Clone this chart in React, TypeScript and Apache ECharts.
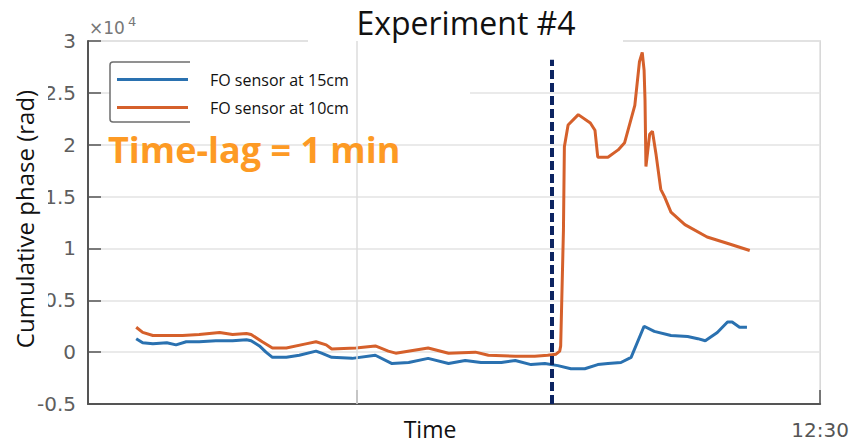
import React, { useEffect, useRef } from "react";
import * as echarts from "echarts";

// x: minutes relative to 12:30, y: cumulative phase in units of 1e4 rad
const seriesNames = ["FO sensor at 15cm", "FO sensor at 10cm"];

const times15 = [-7.38, -7.31, -7.2, -7.05, -6.95, -6.84, -6.7, -6.52, -6.34, -6.19, -6.14, -6.05, -5.98, -5.91, -5.76, -5.62, -5.44, -5.38, -5.27, -5.05, -4.8, -4.62, -4.44, -4.23, -4.01, -3.83, -3.66, -3.44, -3.29, -3.12, -2.97, -2.83, -2.69, -2.54, -2.4, -2.29, -2.15, -2.04, -1.9, -1.79, -1.61, -1.43, -1.32, -1.24, -1.11, -1.0, -0.95, -0.87, -0.79];
const values15 = [0.13, 0.09, 0.08, 0.09, 0.07, 0.1, 0.1, 0.11, 0.11, 0.12, 0.11, 0.06, 0.0, -0.05, -0.05, -0.03, 0.01, -0.01, -0.05, -0.06, -0.03, -0.11, -0.1, -0.06, -0.11, -0.08, -0.1, -0.1, -0.08, -0.12, -0.11, -0.13, -0.16, -0.16, -0.12, -0.11, -0.1, -0.05, 0.25, 0.2, 0.16, 0.15, 0.13, 0.11, 0.19, 0.29, 0.29, 0.24, 0.24];

const times10 = [-7.38, -7.31, -7.2, -6.88, -6.7, -6.48, -6.34, -6.19, -6.14, -6.02, -5.91, -5.76, -5.55, -5.44, -5.33, -5.27, -5.01, -4.8, -4.66, -4.58, -4.23, -4.01, -3.72, -3.58, -3.29, -3.08, -2.94, -2.85, -2.81, -2.8, -2.77, -2.76, -2.72, -2.61, -2.48, -2.43, -2.4, -2.29, -2.18, -2.11, -2.0, -1.95, -1.92, -1.9, -1.89, -1.88, -1.84, -1.81, -1.77, -1.72, -1.68, -1.61, -1.46, -1.22, -0.97, -0.76];
const values10 = [0.24, 0.19, 0.16, 0.16, 0.17, 0.19, 0.17, 0.18, 0.17, 0.1, 0.04, 0.04, 0.08, 0.1, 0.07, 0.03, 0.04, 0.06, 0.01, -0.01, 0.04, -0.01, 0.0, -0.03, -0.04, -0.04, -0.03, -0.02, 0.01, 0.06, 1.18, 1.98, 2.19, 2.29, 2.21, 2.14, 1.88, 1.88, 1.95, 2.02, 2.38, 2.8, 2.89, 2.72, 2.43, 1.79, 2.1, 2.13, 1.9, 1.57, 1.5, 1.35, 1.23, 1.11, 1.04, 0.98];

const yTicks = [-0.5, 0, 0.5, 1, 1.5, 2, 2.5, 3];
const xTickValues = [-5, 0];
const xLabelValues = [0];
const xLabelText = "12:30";
const lagTime = -2.9;
const lagTop = 2.82;

const sans = "'Open Sans', sans-serif";
const tickFont = "'DejaVu Sans', sans-serif";

export default function App() {
  const ref = useRef<HTMLDivElement>(null);
  useEffect(() => {
    if (!ref.current) return;
    const chart = echarts.init(ref.current, undefined, { renderer: "svg" });
    const d15 = times15.map((t, i) => [t, values15[i]]);
    const d10 = times10.map((t, i) => [t, values10[i]]);
    chart.setOption({
      animation: false,
      backgroundColor: "#ffffff",
      grid: {
        left: 88,
        right: 29,
        top: 41,
        bottom: 43,
        show: true,
        borderColor: "#d6d6d6",
        borderWidth: 1.5,
        backgroundColor: "transparent",
      },
      legend: {
        data: seriesNames,
        orient: "vertical",
        left: 117,
        top: 70,
        padding: 0,
        itemWidth: 71,
        itemHeight: 3,
        itemGap: 9,
        icon: "rect",
        selectedMode: false,
        z: 6,
        textStyle: {
          fontFamily: sans,
          fontSize: 16,
          color: "#111111",
          lineHeight: 19,
          padding: [0, 0, 0, 17],
        },
      },
      xAxis: {
        type: "value",
        min: -7.9,
        max: 0,
        axisLine: { show: true, onZero: false, lineStyle: { color: "#555555", width: 2 } },
        axisTick: {
          show: true,
          inside: true,
          length: 14,
          customValues: xTickValues,
          lineStyle: { color: "#555555", width: 1.5 },
        },
        axisLabel: {
          customValues: xLabelValues,
          formatter: () => xLabelText,
          color: "#555555",
          fontFamily: tickFont,
          fontSize: 20,
          margin: 16,
        },
        splitLine: { show: false },
      },
      yAxis: {
        type: "value",
        min: -0.5,
        max: 3,
        interval: 0.5,
        axisLine: { show: true, onZero: false, lineStyle: { color: "#555555", width: 2 } },
        axisTick: {
          show: true,
          inside: true,
          length: 13,
          lineStyle: { color: "#555555", width: 1.5 },
        },
        axisLabel: {
          color: "#5e5e5e",
          fontFamily: tickFont,
          fontSize: 20,
          margin: 12,
          formatter: (v: number) => (yTicks.includes(v) ? String(v) : ""),
        },
        splitLine: { show: true, lineStyle: { color: "#e3e3e3", width: 1.5 } },
      },
      series: [
        {
          name: seriesNames[0],
          type: "line",
          data: d15,
          showSymbol: false,
          symbol: "none",
          lineStyle: { color: "#2a71b0", width: 3 },
          itemStyle: { color: "#2a71b0" },
          z: 2,
        },
        {
          name: seriesNames[1],
          type: "line",
          data: d10,
          showSymbol: false,
          symbol: "none",
          lineStyle: { color: "#d5602b", width: 3 },
          itemStyle: { color: "#d5602b" },
          z: 2,
        },
        {
          name: "gridV",
          type: "line",
          data: [],
          z: 1,
          markLine: {
            silent: true,
            symbol: ["none", "none"],
            label: { show: false },
            lineStyle: { color: "#dcdcdc", width: 1.5, type: "solid" },
            data: [{ xAxis: xTickValues[0] }],
          },
        },
        {
          name: "lag",
          type: "line",
          data: [],
          z: 4,
          markLine: {
            silent: true,
            symbol: ["none", "none"],
            label: { show: false },
            lineStyle: { color: "#0c2461", width: 4, type: [9, 4] },
            data: [[{ coord: [lagTime, -0.5] }, { coord: [lagTime, lagTop] }]],
          },
        },
      ],
      graphic: [
        { type: "rect", silent: true, z: 3, shape: { x: 308, y: 0, width: 315, height: 42 }, style: { fill: "#ffffff" } },
        { type: "rect", silent: true, z: 3, shape: { x: 0, y: 60, width: 48, height: 270 }, style: { fill: "#ffffff" } },
        { type: "rect", silent: true, z: 3, shape: { x: 110, y: 62, width: 90, height: 60, r: 3 }, style: { fill: "#ffffff", stroke: "#6e6e6e", lineWidth: 1.5 } },
        { type: "rect", silent: true, z: 3, shape: { x: 190, y: 50, width: 280, height: 73 }, style: { fill: "#ffffff" } },
        {
          type: "text", silent: true, z: 7, x: 466, y: 22,
          style: { text: "Experiment #4", fontFamily: sans, fontSize: 32, fill: "#111111", align: "center", verticalAlign: "middle" },
        },
        {
          type: "text", silent: true, z: 7, x: 108, y: 149,
          style: { text: "Time-lag = 1 min", fontFamily: sans, fontSize: 36, fontWeight: "bold", fill: "#fd9a24", align: "left", verticalAlign: "middle" },
        },
        {
          type: "text", silent: true, z: 7, x: 24, y: 219, rotation: Math.PI / 2,
          style: { text: "Cumulative phase (rad)", fontFamily: sans, fontSize: 24, fill: "#111111", align: "center", verticalAlign: "middle" },
        },
        {
          type: "text", silent: true, z: 7, x: 430, y: 429,
          style: { text: "Time", fontFamily: sans, fontSize: 23, fill: "#111111", align: "center", verticalAlign: "middle" },
        },
        {
          type: "text", silent: true, z: 7, x: 89, y: 28,
          style: { text: "×10", fontFamily: tickFont, fontSize: 17, fill: "#777777", align: "left", verticalAlign: "middle" },
        },
        {
          type: "text", silent: true, z: 7, x: 128, y: 21,
          style: { text: "4", fontFamily: tickFont, fontSize: 13, fill: "#777777", align: "left", verticalAlign: "middle" },
        },
      ],
    });
    return () => chart.dispose();
  }, []);
  return <div ref={ref} style={{ position: "absolute", left: 0, top: 0, width: 852, height: 447 }} />;
}
